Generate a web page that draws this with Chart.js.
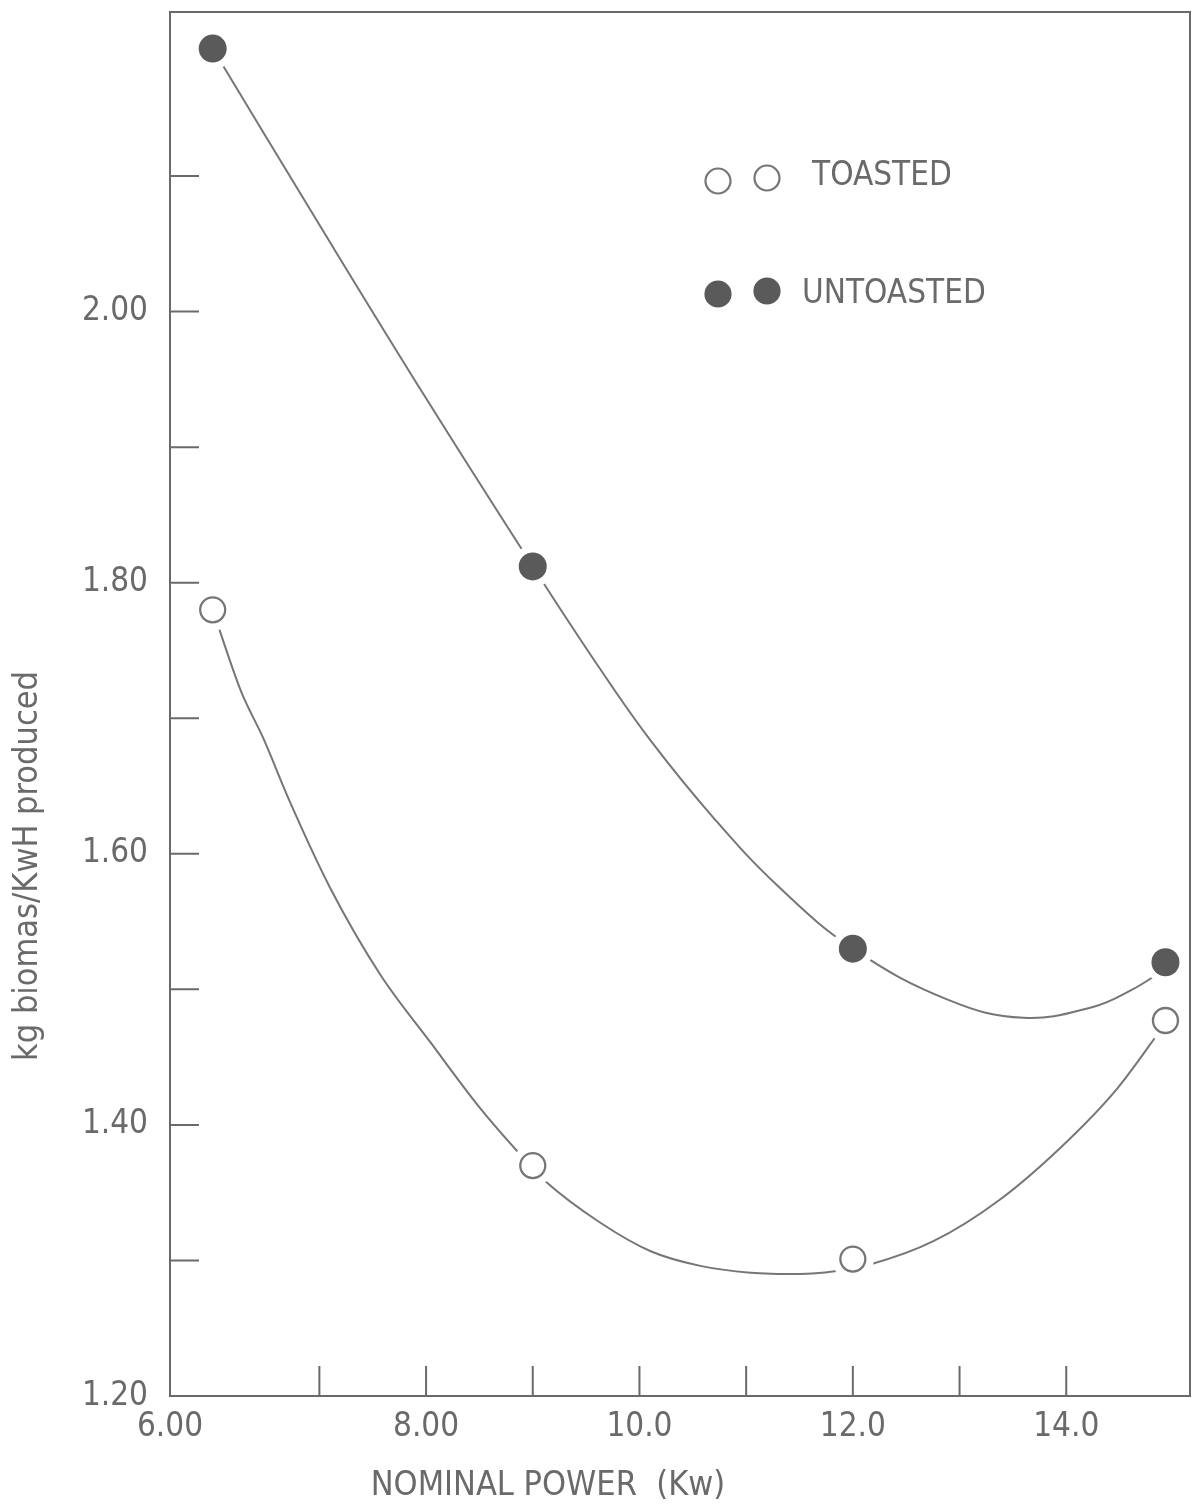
<!DOCTYPE html>
<html lang="en">
<head>
<meta charset="UTF-8">
<title>kg biomas/KwH produced vs nominal power</title>
<script src="https://cdn.jsdelivr.net/npm/chart.js"></script>
<style>
    body { margin: 0; background: #fff; }
    #wrap { width: 1197px; height: 1505px; }
</style>
</head>
<body>
<div id="wrap"><canvas id="chart" width="1197" height="1505"></canvas></div>
<script>
// measured points
const powerKw = [6.0, 9.0, 12.0, 14.93];
const toasted = [1.780, 1.370, 1.301, 1.477];
const untoasted = [2.194, 1.812, 1.530, 1.520];

// the hand drawn curves
const untoastedCurveX = [6.0, 7.0, 8.0, 9.0, 9.6, 10.1, 10.7, 11.3, 12.0, 12.9, 13.6, 14.25, 14.6, 14.93];
const untoastedCurveY = [2.194, 2.064, 1.936, 1.812, 1.740, 1.684, 1.626, 1.576, 1.530, 1.492, 1.479, 1.487, 1.499, 1.515];
const toastedCurveX = [6.0, 6.27, 6.47, 6.72, 7.10, 7.57, 8.04, 8.51, 9.0, 9.11, 9.63, 10.10, 10.57, 11.04, 11.50, 11.83, 12.16, 12.75, 13.38, 14.01, 14.48, 14.93];
const toastedCurveY = [1.780, 1.719, 1.686, 1.639, 1.575, 1.511, 1.461, 1.412, 1.368, 1.359, 1.328, 1.307, 1.296, 1.291, 1.290, 1.292, 1.297, 1.314, 1.345, 1.388, 1.427, 1.475];

// axes
const xMin = 5.6, xMax = 15.16;
const yMin = 1.2, yMax = 2.221;
const xTickValues = [xMin, 7, 8, 9, 10, 11, 12, 13, 14];
const xTickLabels = ['6.00', '', '8.00', '', '10.0', '', '12.0', '', '14.0'];
const yTickValues = [1.2, 1.3, 1.4, 1.5, 1.6, 1.7, 1.8, 1.9, 2.0, 2.1];
const yTickLabels = ['1.20', '', '1.40', '', '1.60', '', '1.80', '', '2.00', ''];

const xTitle = 'NOMINAL POWER  (Kw)';
const yTitle = 'kg biomas/KwH produced';
const legendLabels = ['TOASTED', 'UNTOASTED'];

const FONT = "'DejaVu Sans Condensed', 'DejaVu Sans', sans-serif";
const inkColor = '#6a6a6a';
const lineColor = '#767676';
const dotColor = '#5a5a5a';

function pts(xs, ys) {
    return xs.map((x, i) => ({ x: x, y: ys[i] }));
}

function noEdgePadding(s) {
    s.paddingTop = 0;
    s.paddingBottom = 0;
    s.paddingLeft = 0;
    s.paddingRight = 0;
}

const decor = {
    id: 'decor',
    afterDraw(chart) {
        const { ctx, chartArea: a, scales: { x, y } } = chart;
        ctx.save();
        ctx.strokeStyle = inkColor;
        ctx.lineWidth = 2;

        // top and right frame
        ctx.beginPath();
        ctx.moveTo(a.left, a.top);
        ctx.lineTo(a.right, a.top);
        ctx.lineTo(a.right, a.bottom);
        ctx.stroke();

        // tick marks point inward
        ctx.beginPath();
        x.ticks.forEach(t => {
            if (t.value <= x.min) return;
            const px = x.getPixelForValue(t.value);
            ctx.moveTo(px, a.bottom);
            ctx.lineTo(px, a.bottom - 30);
        });
        y.ticks.forEach(t => {
            if (t.value <= y.min) return;
            const py = y.getPixelForValue(t.value);
            ctx.moveTo(a.left, py);
            ctx.lineTo(a.left + 29, py);
        });
        ctx.stroke();

        // axis titles
        ctx.fillStyle = inkColor;
        ctx.font = '34px ' + FONT;
        ctx.textAlign = 'center';
        ctx.textBaseline = 'middle';
        ctx.fillText(xTitle, 548, 1486);
        ctx.save();
        ctx.translate(28, 866);
        ctx.rotate(-Math.PI / 2);
        ctx.fillText(yTitle, 0, 0);
        ctx.restore();

        // legend
        ctx.font = '33px ' + FONT;
        ctx.textAlign = 'left';
        const rows = [
            { y: 180, textY: 176, fill: '#fff', stroke: lineColor, textX: 812 },
            { y: 293, textY: 294, fill: dotColor, stroke: dotColor, textX: 802 }
        ];
        rows.forEach((r, i) => {
            [718, 767].forEach(cx => {
                ctx.beginPath();
                ctx.arc(cx, r.y + (cx > 740 ? -2 : 1), 12.5, 0, Math.PI * 2);
                ctx.fillStyle = r.fill;
                ctx.fill();
                ctx.lineWidth = 2.2;
                ctx.strokeStyle = r.stroke;
                ctx.stroke();
            });
            ctx.fillStyle = inkColor;
            ctx.fillText(legendLabels[i], r.textX, r.textY);
        });
        ctx.restore();
    }
};

new Chart(document.getElementById('chart'), {
    type: 'scatter',
    data: {
        datasets: [
            {
                label: 'toasted curve',
                data: pts(toastedCurveX, toastedCurveY),
                showLine: true,
                pointRadius: 0,
                borderColor: lineColor,
                borderWidth: 2,
                cubicInterpolationMode: 'monotone',
                order: 3
            },
            {
                label: 'untoasted curve',
                data: pts(untoastedCurveX, untoastedCurveY),
                showLine: true,
                pointRadius: 0,
                borderColor: lineColor,
                borderWidth: 2,
                tension: 0.4,
                order: 3
            },
            {
                label: 'gap',
                data: pts(powerKw, toasted).concat(pts(powerKw, untoasted)),
                pointRadius: 21,
                pointBackgroundColor: '#fff',
                pointBorderWidth: 0,
                order: 2
            },
            {
                label: 'TOASTED',
                data: pts(powerKw, toasted),
                pointRadius: 12.5,
                pointBackgroundColor: '#fff',
                pointBorderColor: lineColor,
                pointBorderWidth: 2.3,
                order: 1
            },
            {
                label: 'UNTOASTED',
                data: pts(powerKw, untoasted),
                pointRadius: 14,
                pointBackgroundColor: dotColor,
                pointBorderColor: dotColor,
                pointBorderWidth: 0,
                order: 1
            }
        ]
    },
    options: {
        responsive: false,
        animation: false,
        layout: { autoPadding: false, padding: { top: 12, right: 7, left: 0, bottom: 0 } },
        plugins: {
            legend: { display: false },
            tooltip: { enabled: false }
        },
        scales: {
            x: {
                type: 'linear',
                min: xMin,
                max: xMax,
                afterBuildTicks: s => { s.ticks = xTickValues.map(v => ({ value: v })); },
                afterFit: s => { s.height = 109; noEdgePadding(s); },
                grid: { display: false, drawTicks: false },
                border: { display: true, color: inkColor, width: 2 },
                ticks: {
                    autoSkip: false,
                    maxRotation: 0,
                    padding: 12,
                    color: inkColor,
                    font: { family: FONT, size: 33 },
                    callback: (v, i) => xTickLabels[i]
                }
            },
            y: {
                type: 'linear',
                min: yMin,
                max: yMax,
                afterBuildTicks: s => { s.ticks = yTickValues.map(v => ({ value: v })); },
                afterFit: s => { s.width = 170; noEdgePadding(s); },
                grid: { display: false, drawTicks: false },
                border: { display: true, color: inkColor, width: 2 },
                ticks: {
                    autoSkip: false,
                    padding: 22,
                    color: inkColor,
                    font: { family: FONT, size: 33 },
                    callback: (v, i) => yTickLabels[i]
                }
            }
        }
    },
    plugins: [decor]
});
</script>
</body>
</html>
